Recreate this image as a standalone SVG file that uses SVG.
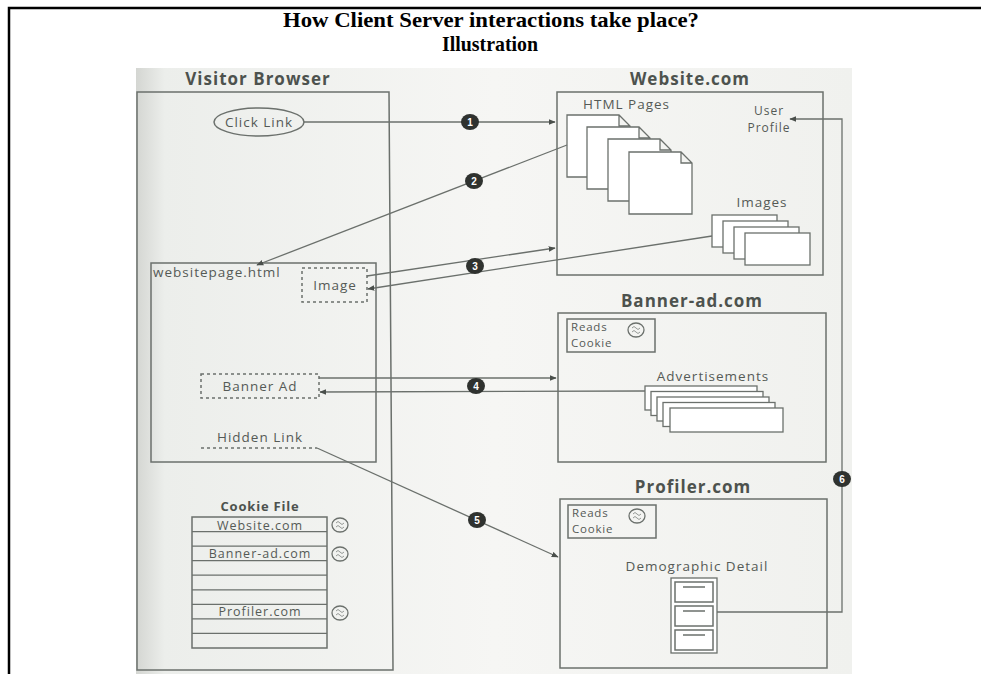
<svg xmlns="http://www.w3.org/2000/svg" width="981" height="674" viewBox="0 0 981 674">
  <defs>
    <linearGradient id="paper" x1="0" y1="0" x2="1" y2="0">
      <stop offset="0" stop-color="#d4d6d2"/>
      <stop offset="0.04" stop-color="#eceeeb"/>
      <stop offset="0.5" stop-color="#f6f6f4"/>
      <stop offset="1" stop-color="#f0f1ee"/>
    </linearGradient>
    <marker id="arr" viewBox="0 0 10 10" refX="9" refY="5" markerWidth="7" markerHeight="7" orient="auto" markerUnits="userSpaceOnUse">
      <path d="M0,1 L10,5 L0,9 Z" fill="#4a4f4b"/>
    </marker>
    <g id="cookie">
      <ellipse cx="0" cy="0" rx="8" ry="7" fill="none" stroke="#6b706c" stroke-width="1.3"/>
      <path d="M-4,-2 q2,-3 4,0 q2,3 4,0 M-4,2 q2,-3 4,0 q2,3 4,0" fill="none" stroke="#8a8f8b" stroke-width="0.9"/>
    </g>
  </defs>
  <style>
    .title { font-family: "Liberation Serif", "Times New Roman", serif; font-weight: bold; font-size: 22px; fill: #000; }
    .head { font-family: "Open Sans", "Liberation Sans", sans-serif; font-weight: bold; font-size: 17px; letter-spacing: 1px; fill: #4d524e; }
    .lbl { font-family: "Open Sans", "Liberation Sans", sans-serif; font-size: 13.5px; letter-spacing: 1px; fill: #555a56; }
    .small { font-size: 11.5px; letter-spacing: 0.8px; }
    .row { font-size: 12.5px; letter-spacing: 1px; }
    .box { fill: none; stroke: #6b706c; stroke-width: 1.5; }
    .sheet { fill: #ffffff; stroke: #6b706c; stroke-width: 1.3; }
    .dash { fill: none; stroke: #6b706c; stroke-width: 1.5; stroke-dasharray: 3 3; }
    .wire { fill: none; stroke: #6b706c; stroke-width: 1.3; }
    .badge { fill: #2f322f; }
    .num { font-family: "Liberation Sans", Arial, sans-serif; font-weight: bold; font-size: 10px; fill: #ffffff; text-anchor: middle; }
  </style>

  <!-- page frame and heading -->
  <rect x="0" y="0" width="981" height="674" fill="#ffffff"/>
  <path d="M9,674 V8 H981" fill="none" stroke="#000" stroke-width="2.5"/>
  <text class="title" x="491" y="27" text-anchor="middle" textLength="416" lengthAdjust="spacingAndGlyphs">How Client Server interactions take place?</text>
  <text class="title" x="490" y="51" text-anchor="middle" textLength="96" lengthAdjust="spacingAndGlyphs">Illustration</text>

  <!-- illustration panel -->
  <rect x="136" y="68" width="716" height="606" fill="url(#paper)"/>

  <!-- Visitor Browser -->
  <g id="visitor-browser">
    <text class="head" x="258" y="85" text-anchor="middle">Visitor Browser</text>
    <path class="box" d="M137,92 H389 L393,670 H137 Z"/>
    <ellipse cx="259" cy="122" rx="45" ry="14" fill="none" stroke="#6b706c" stroke-width="1.5"/>
    <text class="lbl" x="259" y="127" text-anchor="middle">Click Link</text>
  </g>

  <g id="website-page">
    <rect class="box" x="151" y="263" width="225" height="199"/>
    <text class="lbl" x="153" y="277">websitepage.html</text>
  </g>

  <g id="image-slot">
    <rect class="dash" x="302" y="268" width="65" height="34"/>
    <text class="lbl" x="335" y="290" text-anchor="middle">Image</text>
  </g>

  <g id="banner-slot">
    <rect class="dash" x="201" y="374" width="118" height="24"/>
    <text class="lbl" x="260" y="391" text-anchor="middle">Banner Ad</text>
  </g>

  <g id="hidden-link">
    <text class="lbl" x="260" y="442" text-anchor="middle">Hidden Link</text>
    <line class="dash" x1="201" y1="448" x2="317" y2="448"/>
  </g>

  <g id="cookie-file">
    <text class="head" x="260" y="511" text-anchor="middle" style="font-size:13px;letter-spacing:0.8px">Cookie File</text>
    <rect class="box" x="192" y="517" width="135" height="131"/>
    <path class="wire" d="M192,531.6 H327 M192,546.1 H327 M192,560.7 H327 M192,575.2 H327 M192,589.8 H327 M192,604.3 H327 M192,618.9 H327 M192,633.4 H327"/>
    <text class="lbl row" x="260" y="529.5" text-anchor="middle">Website.com</text>
    <text class="lbl row" x="260" y="558" text-anchor="middle">Banner-ad.com</text>
    <text class="lbl row" x="260" y="616" text-anchor="middle">Profiler.com</text>
    <use href="#cookie" x="340" y="525"/>
    <use href="#cookie" x="340" y="554"/>
    <use href="#cookie" x="340" y="613"/>
  </g>

  <!-- Website.com -->
  <g id="website">
    <text class="head" x="690" y="85" text-anchor="middle">Website.com</text>
    <rect class="box" x="557" y="92" width="266" height="183"/>
    <text class="lbl" x="583" y="109">HTML Pages</text>
    <path class="sheet" d="M567,115 H619 L630,126 V177 H567 Z M619,115 V126 H630"/>
    <path class="sheet" d="M587,127 H639 L650,138 V189 H587 Z M639,127 V138 H650"/>
    <path class="sheet" d="M608,139 H660 L671,150 V201 H608 Z M660,139 V150 H671"/>
    <path class="sheet" d="M629,152 H681 L692,163 V214 H629 Z M681,152 V163 H692"/>
    <text class="lbl" x="769" y="115" text-anchor="middle" style="font-size:12px">User</text>
    <text class="lbl" x="769" y="132" text-anchor="middle" style="font-size:12px">Profile</text>
    <text class="lbl" x="762" y="207" text-anchor="middle">Images</text>
    <rect class="sheet" x="712" y="215" width="65" height="32"/>
    <rect class="sheet" x="723" y="221" width="65" height="32"/>
    <rect class="sheet" x="734" y="227" width="65" height="32"/>
    <rect class="sheet" x="745" y="233" width="65" height="32"/>
  </g>

  <!-- Banner-ad.com -->
  <g id="banner-ad">
    <text class="head" x="692" y="307" text-anchor="middle">Banner-ad.com</text>
    <rect class="box" x="558" y="313" width="268" height="149"/>
    <rect class="box" x="567" y="319" width="88" height="33"/>
    <text class="lbl small"><tspan x="571" y="331">Reads</tspan><tspan x="571" y="347">Cookie</tspan></text>
    <use href="#cookie" x="636" y="330"/>
    <text class="lbl" x="713" y="381" text-anchor="middle">Advertisements</text>
    <rect class="sheet" x="645" y="386" width="112" height="24"/>
    <rect class="sheet" x="651" y="391.5" width="112" height="24"/>
    <rect class="sheet" x="657" y="397" width="112" height="24"/>
    <rect class="sheet" x="663" y="402.5" width="112" height="24"/>
    <rect class="sheet" x="670" y="408" width="113" height="24"/>
  </g>

  <!-- Profiler.com -->
  <g id="profiler">
    <text class="head" x="693" y="493" text-anchor="middle">Profiler.com</text>
    <rect class="box" x="560" y="499" width="267" height="169"/>
    <rect class="box" x="568" y="505" width="88" height="33"/>
    <text class="lbl small"><tspan x="572" y="517">Reads</tspan><tspan x="572" y="533">Cookie</tspan></text>
    <use href="#cookie" x="637" y="516"/>
    <text class="lbl" x="697" y="571" text-anchor="middle">Demographic Detail</text>
    <rect class="sheet" x="671" y="578" width="46" height="75"/>
    <rect class="box" x="675" y="582" width="38" height="20"/>
    <rect class="box" x="675" y="606" width="38" height="20"/>
    <rect class="box" x="675" y="630" width="38" height="20"/>
    <path class="wire" d="M683,587 H705 M683,611 H705 M683,635 H705" stroke-width="2"/>
  </g>

  <!-- connectors -->
  <g id="connectors">
    <line class="wire" x1="304" y1="122" x2="555" y2="122" marker-end="url(#arr)"/>
    <line class="wire" x1="567" y1="145" x2="257" y2="265" marker-end="url(#arr)"/>
    <line class="wire" x1="367" y1="276" x2="555" y2="248" marker-end="url(#arr)"/>
    <line class="wire" x1="712" y1="236" x2="368" y2="289" marker-end="url(#arr)"/>
    <line class="wire" x1="319" y1="378" x2="556" y2="378" marker-end="url(#arr)"/>
    <line class="wire" x1="645" y1="391" x2="320" y2="392" marker-end="url(#arr)"/>
    <line class="wire" x1="317" y1="448" x2="558" y2="557" marker-end="url(#arr)"/>
    <polyline class="wire" points="717,612 842,612 842,119 790,119" marker-end="url(#arr)"/>

    <ellipse class="badge" cx="470" cy="122" rx="9" ry="8"/>
    <text class="num" x="470" y="126">1</text>
    <ellipse class="badge" cx="474" cy="181" rx="9" ry="8"/>
    <text class="num" x="474" y="185">2</text>
    <ellipse class="badge" cx="475" cy="266" rx="9" ry="8"/>
    <text class="num" x="475" y="270">3</text>
    <ellipse class="badge" cx="476" cy="386" rx="9" ry="8"/>
    <text class="num" x="476" y="390">4</text>
    <ellipse class="badge" cx="477" cy="520" rx="9" ry="8"/>
    <text class="num" x="477" y="524">5</text>
    <ellipse class="badge" cx="842" cy="479" rx="9" ry="8"/>
    <text class="num" x="842" y="483">6</text>
  </g>
</svg>
